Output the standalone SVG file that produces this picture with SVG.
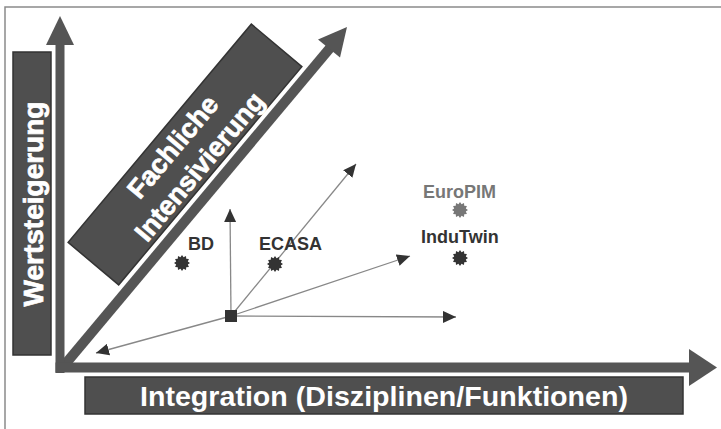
<svg xmlns="http://www.w3.org/2000/svg" width="721" height="429" viewBox="0 0 721 429">
<style>
.bar{fill:#555555}
.box{fill:#4f4f4f;stroke:#333333;stroke-width:1.5}
.wt{fill:#ffffff;font-family:"Liberation Sans",Arial,sans-serif;font-weight:bold}
.rt{stroke:#ffffff;stroke-width:0.7}
.lbl{font-family:"Liberation Sans",Arial,sans-serif;font-weight:bold;font-size:18px;fill:#333333}
.vec{stroke:#888888;stroke-width:1.3;fill:none;marker-end:url(#ah)}
</style>
<defs>
<marker id="ah" markerUnits="userSpaceOnUse" markerWidth="13" markerHeight="12" refX="13" refY="6" orient="auto">
<path d="M0,0 L13,6 L0,12 z" fill="#333333"/>
</marker>
<path id="star" d="M8,0 L5.8,1.55 L6.93,4 L4.24,4.24 L4,6.93 L1.55,5.8 L0,8 L-1.55,5.8 L-4,6.93 L-4.24,4.24 L-6.93,4 L-5.8,1.55 L-8,0 L-5.8,-1.55 L-6.93,-4 L-4.24,-4.24 L-4,-6.93 L-1.55,-5.8 L0,-8 L1.55,-5.8 L4,-6.93 L4.24,-4.24 L6.93,-4 L5.8,-1.55 z"/>
</defs>
<rect width="721" height="429" fill="#ffffff"/>
<path d="M5,429 L5,7 L721,7" fill="none" stroke="#8a8a8a" stroke-width="1.5"/>

<g id="axes">
<line x1="62" y1="368" x2="330" y2="48" stroke="#555555" stroke-width="10"/>
<polygon class="bar" points="318,39.5 347,27 340,57.5"/>
<rect class="bar" x="55.5" y="44" width="9" height="329"/>
<polygon class="bar" points="46,45 60,16 74,45"/>
<rect class="bar" x="55.5" y="362.5" width="635" height="10"/>
<polygon class="bar" points="689,349 717,367.5 689,386"/>
</g>

<g id="wertsteigerung">
<rect class="box" x="13" y="52" width="38" height="303"/>
<text class="wt rt" font-size="28" text-anchor="middle" transform="translate(43,204) rotate(-90)">Wertsteigerung</text>
</g>

<g id="fachliche" transform="translate(185,154.5) rotate(-50)">
<rect class="box" x="-142.5" y="-33" width="285" height="66"/>
<text class="wt rt" font-size="27" text-anchor="middle" x="-2" y="-5">Fachliche</text>
<text class="wt rt" font-size="27" text-anchor="middle" x="0" y="28">Intensivierung</text>
</g>

<g id="integration">
<rect class="box" x="85" y="377" width="598" height="37"/>
<text class="wt" font-size="27" x="140" y="406" textLength="488" lengthAdjust="spacingAndGlyphs">Integration (Disziplinen/Funktionen)</text>
</g>

<g id="connectors">
<line class="vec" x1="231" y1="316" x2="230" y2="209"/>
<line class="vec" x1="231" y1="316" x2="356" y2="164"/>
<line class="vec" x1="231" y1="316" x2="410" y2="256"/>
<line class="vec" x1="231" y1="316" x2="456" y2="317"/>
<line class="vec" x1="231" y1="316" x2="96" y2="353"/>
</g>

<g id="origin">
<rect x="225" y="310" width="12" height="12" fill="#333333"/>
</g>

<g id="bd">
<use href="#star" x="182" y="263" fill="#333333"/>
<text class="lbl" x="188" y="250">BD</text>
</g>
<g id="ecasa">
<use href="#star" x="275" y="264" fill="#333333"/>
<text class="lbl" x="259" y="250">ECASA</text>
</g>
<g id="europim">
<use href="#star" x="460" y="210" fill="#777777"/>
<text class="lbl" x="423" y="198" style="fill:#777777">EuroPIM</text>
</g>
<g id="indutwin">
<use href="#star" x="460" y="258" fill="#333333"/>
<text class="lbl" x="421" y="243">InduTwin</text>
</g>
</svg>
